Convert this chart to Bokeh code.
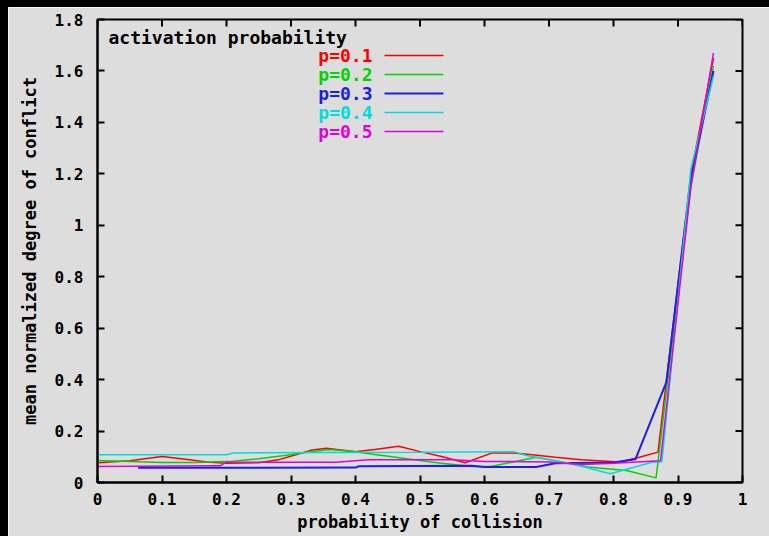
from bokeh.plotting import figure
from bokeh.models import FixedTicker, Range1d, ColumnDataSource, Spacer
from bokeh.layouts import row, column
from bokeh.core.properties import value
from bokeh.embed import file_html
from bokeh.resources import INLINE

# ---- data ----
legend_title = "activation probability"
series_labels = ["p=0.1", "p=0.2", "p=0.3", "p=0.4", "p=0.5"]

x_p01 = [0, 0.05, 0.1, 0.13, 0.17, 0.2, 0.25, 0.28, 0.31, 0.33, 0.355, 0.4, 0.43, 0.467,
         0.5, 0.535, 0.57, 0.612, 0.645, 0.674, 0.71, 0.75, 0.81, 0.84, 0.869, 0.92, 0.955]
y_p01 = [0.077, 0.085, 0.101, 0.092, 0.08, 0.075, 0.077, 0.088, 0.11, 0.125, 0.133, 0.12, 0.128, 0.141,
         0.12, 0.1, 0.077, 0.115, 0.115, 0.108, 0.098, 0.088, 0.08, 0.098, 0.118, 1.2, 1.65]

x_p02 = [0, 0.05, 0.1, 0.15, 0.21, 0.25, 0.29, 0.33, 0.36, 0.4, 0.43, 0.48, 0.52, 0.58,
         0.61, 0.65, 0.68, 0.72, 0.76, 0.82, 0.866, 0.92, 0.955]
y_p02 = [0.086, 0.082, 0.078, 0.078, 0.083, 0.092, 0.105, 0.12, 0.128, 0.12, 0.109, 0.092, 0.079, 0.062,
         0.062, 0.083, 0.098, 0.08, 0.06, 0.047, 0.018, 1.15, 1.62]

x_p03 = [0.063, 0.4, 0.405, 0.58, 0.6, 0.68, 0.71, 0.8, 0.834, 0.882, 0.92, 0.955]
y_p03 = [0.057, 0.058, 0.063, 0.065, 0.06, 0.06, 0.075, 0.078, 0.09, 0.39, 1.18, 1.6]

x_p04 = [0, 0.2, 0.21, 0.5, 0.645, 0.665, 0.735, 0.795, 0.86, 0.875, 0.92, 0.955]
y_p04 = [0.108, 0.108, 0.115, 0.118, 0.12, 0.105, 0.073, 0.034, 0.079, 0.08, 1.22, 1.58]

x_p05 = [0, 0.19, 0.2, 0.37, 0.42, 0.55, 0.6, 0.7, 0.75, 0.8, 0.873, 0.92, 0.955]
y_p05 = [0.062, 0.065, 0.079, 0.079, 0.088, 0.088, 0.082, 0.08, 0.07, 0.075, 0.085, 1.15, 1.67]

x_ticks = [0, 0.1, 0.2, 0.3, 0.4, 0.5, 0.6, 0.7, 0.8, 0.9, 1]
x_tick_labels = ["0", "0.1", "0.2", "0.3", "0.4", "0.5", "0.6", "0.7", "0.8", "0.9", "1"]
y_ticks = [0, 0.2, 0.4, 0.6, 0.8, 1, 1.2, 1.4, 1.6, 1.8]
y_tick_labels = ["0", "0.2", "0.4", "0.6", "0.8", "1", "1.2", "1.4", "1.6", "1.8"]

xs = [x_p01, x_p02, x_p03, x_p04, x_p05]
ys = [y_p01, y_p02, y_p03, y_p04, y_p05]

# ---- style ----
colors = ["#ff0000", "#00d400", "#1e1ee6", "#00dcdc", "#e000e0"]
widths = [1.5, 1.5, 2.0, 1.5, 1.5]
BG = "#dddddd"
FONT = "DejaVu Sans Mono"
TICK_FS = "16px"
LABEL_FS = "17px"
KEY_FS = "18px"

X0, X1, Y0, Y1 = 0, 1, 0, 1.8
p = figure(width=761, height=529, x_range=Range1d(X0, X1), y_range=Range1d(Y0, Y1),
           output_backend="svg", toolbar_location=None,
           min_border_left=89, min_border_right=27, min_border_top=12, min_border_bottom=54)
p.background_fill_color = BG
p.border_fill_color = BG
p.outline_line_color = "black"
p.outline_line_width = 2
p.xgrid.visible = False
p.ygrid.visible = False

for ax, ticks, labels in ((p.xaxis[0], x_ticks, x_tick_labels), (p.yaxis[0], y_ticks, y_tick_labels)):
    ax.ticker = FixedTicker(ticks=ticks)
    ax.major_label_overrides = dict(zip(ticks, labels))
    ax.major_tick_in = 7
    ax.major_tick_out = 0
    ax.minor_tick_line_color = None
    ax.axis_line_width = 2
    ax.major_tick_line_width = 2
    ax.major_label_text_font = FONT
    ax.major_label_text_font_size = TICK_FS
    ax.major_label_text_font_style = "bold"
    ax.major_label_text_color = "black"
    ax.axis_label_text_font = FONT
    ax.axis_label_text_font_size = LABEL_FS
    ax.axis_label_text_font_style = "bold"
    ax.axis_label_text_color = "black"

p.xaxis.axis_label = "probability of collision"
p.yaxis.axis_label = "mean normalized degree of conflict"
p.xaxis.major_label_standoff = 10
p.yaxis.major_label_standoff = 14
p.xaxis.axis_label_standoff = 4
p.yaxis.axis_label_standoff = 12

# mirrored inward ticks on top and right edges (gnuplot style)
px_x = (X1 - X0) / 645.0
px_y = (Y1 - Y0) / 463.0
tick_len_x = 7 * px_x
tick_len_y = 7 * px_y
p.segment(x0=x_ticks, y0=[Y1] * len(x_ticks), x1=x_ticks, y1=[Y1 - tick_len_y] * len(x_ticks),
          line_color="black", line_width=2)
p.segment(x0=[X1] * len(y_ticks), y0=y_ticks, x1=[X1 - tick_len_x] * len(y_ticks), y1=y_ticks,
          line_color="black", line_width=2)

for x, y, c, w in zip(xs, ys, colors, widths):
    p.line(x, y, line_color=c, line_width=w)

# ---- gnuplot-style key (text right-aligned, sample line to the right) ----
key_text_x = 275 * px_x
key_line_x0 = 287 * px_x
key_line_x1 = 346 * px_x
row_y = [Y1 - (55 - 19) * px_y - i * 19 * px_y for i in range(len(series_labels))]

p.text(x=[11 * px_x], y=[Y1 - (36.5 - 19) * px_y], text=[legend_title],
       text_font=value(FONT), text_font_size=KEY_FS, text_font_style="bold",
       text_color="black", text_align="left", text_baseline="middle")
key_src = ColumnDataSource(dict(x=[key_text_x] * len(series_labels), y=row_y,
                                text=series_labels, color=colors,
                                x0=[key_line_x0] * len(series_labels),
                                x1=[key_line_x1] * len(series_labels), w=widths))
p.text(x="x", y="y", text="text", source=key_src, text_color="color",
       text_font=value(FONT), text_font_size=KEY_FS, text_font_style="bold",
       text_align="right", text_baseline="middle")
p.segment(x0="x0", y0="y", x1="x1", y1="y", source=key_src, line_color="color", line_width="w")

left_pad = Spacer(width=8, height=536, styles={"background-color": "black"})
top_pad = Spacer(width=761, height=7, styles={"background-color": "black"})
layout = row(left_pad, column(top_pad, p, spacing=0), spacing=0)

open("out.html", "w").write(file_html(layout, INLINE))
